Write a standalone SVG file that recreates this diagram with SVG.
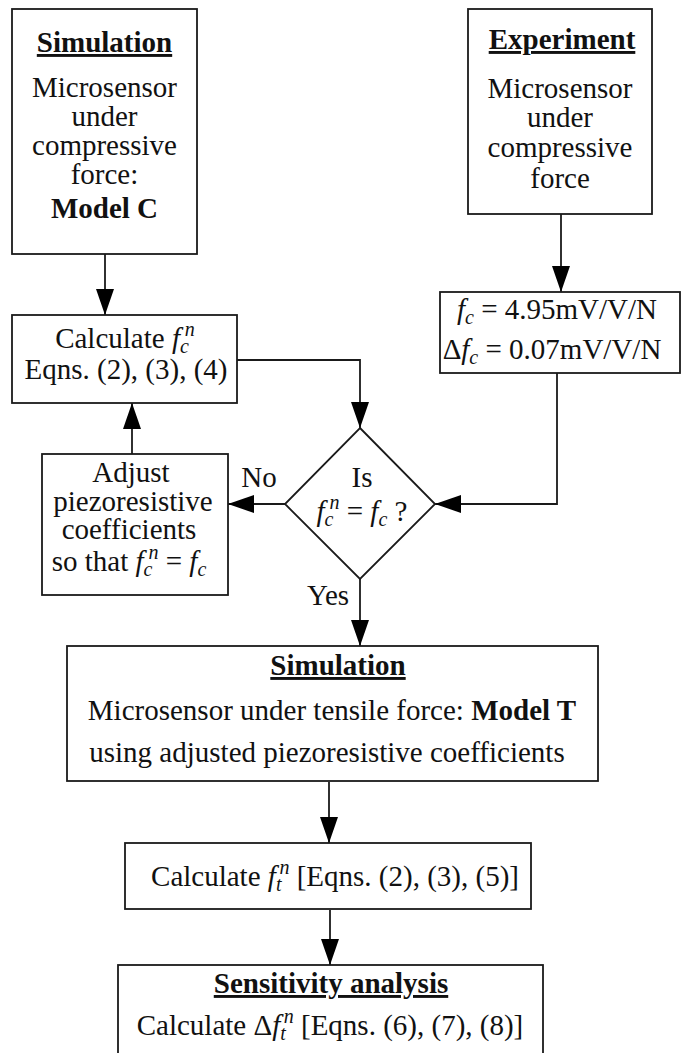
<svg xmlns="http://www.w3.org/2000/svg" width="689" height="1053" viewBox="0 0 689 1053">
<style>
.box{fill:#fff;stroke:#1a1a1a;stroke-width:1.8}
.ln{fill:none;stroke:#1a1a1a;stroke-width:1.8}
text{font-family:"Liberation Serif","Times New Roman",serif;font-size:29px;fill:#111;text-anchor:middle}
.b{font-weight:bold}
.u{text-decoration:underline}
.i{font-style:italic}
.s{font-style:italic;font-size:20px}
</style>
<defs>
<marker id="ah" markerUnits="userSpaceOnUse" markerWidth="26" markerHeight="18" refX="26" refY="9" orient="auto">
<path d="M0,0 L26,9 L0,18 Z" fill="#000"/>
</marker>
</defs>
<rect width="689" height="1053" fill="#fff"/>

<g id="connectors">
<line class="ln" x1="105" y1="254" x2="105" y2="315" marker-end="url(#ah)"/>
<line class="ln" x1="561" y1="214" x2="561" y2="292" marker-end="url(#ah)"/>
<polyline class="ln" points="237,360 360,360 360,428" marker-end="url(#ah)"/>
<polyline class="ln" points="557,373 557,504 435,504" marker-end="url(#ah)"/>
<line class="ln" x1="285" y1="504" x2="228" y2="504" marker-end="url(#ah)"/>
<line class="ln" x1="132" y1="454" x2="132" y2="403" marker-end="url(#ah)"/>
<line class="ln" x1="360" y1="579" x2="360" y2="646" marker-end="url(#ah)"/>
<line class="ln" x1="329" y1="782" x2="329" y2="843" marker-end="url(#ah)"/>
<line class="ln" x1="330" y1="910" x2="330" y2="965" marker-end="url(#ah)"/>
<text x="259" y="487">No</text>
<text x="328" y="605">Yes</text>
</g>

<g id="sim-c">
<rect class="box" x="12" y="9" width="185" height="245"/>
<text x="104.5" y="52" class="b u">Simulation</text>
<text x="104.5" y="97">Microsensor</text>
<text x="104.5" y="126">under</text>
<text x="104.5" y="155">compressive</text>
<text x="104.5" y="184">force:</text>
<text x="104.5" y="218" class="b">Model C</text>
</g>

<g id="experiment">
<rect class="box" x="468" y="9" width="184" height="205"/>
<text x="562" y="49" class="b u">Experiment</text>
<text x="560" y="98">Microsensor</text>
<text x="560" y="127">under</text>
<text x="560" y="157">compressive</text>
<text x="560" y="188">force</text>
</g>

<g id="fc-value">
<rect class="box" x="440" y="292" width="240" height="81"/>
<text x="557" y="319"><tspan class="i">f</tspan><tspan class="s" dy="5">c</tspan><tspan dy="-5"> = 4.95mV/V/N</tspan></text>
<text x="552" y="359">Δ<tspan class="i">f</tspan><tspan class="s" dy="5">c</tspan><tspan dy="-5"> = 0.07mV/V/N</tspan></text>
</g>

<g id="calc-fcn">
<rect class="box" x="12" y="315" width="225" height="88"/>
<text x="125" y="348">Calculate <tspan class="i">f</tspan><tspan class="s" dy="5">c</tspan><tspan class="s" dx="-4" dy="-17">n</tspan></text>
<text x="126" y="379">Eqns. (2), (3), (4)</text>
</g>

<g id="adjust">
<rect class="box" x="42" y="454" width="186" height="141"/>
<text x="131" y="482">Adjust</text>
<text x="133" y="511">piezoresistive</text>
<text x="129" y="539">coefficients</text>
<text x="129" y="571">so that <tspan class="i">f</tspan><tspan class="s" dy="5">c</tspan><tspan class="s" dx="-4" dy="-17">n</tspan><tspan dy="12"> = </tspan><tspan class="i">f</tspan><tspan class="s" dy="5">c</tspan></text>
</g>

<g id="decision">
<polygon class="box" points="360,428 435,504 360,579 285,504"/>
<text x="362" y="487">Is</text>
<text x="362" y="521"><tspan class="i">f</tspan><tspan class="s" dy="5">c</tspan><tspan class="s" dx="-4" dy="-17">n</tspan><tspan dy="12"> = </tspan><tspan class="i">f</tspan><tspan class="s" dy="5">c</tspan><tspan dy="-5"> ?</tspan></text>
</g>

<g id="sim-t">
<rect class="box" x="67" y="646" width="531" height="135"/>
<text x="338" y="675" class="b u">Simulation</text>
<text x="332" y="720">Microsensor under tensile force: <tspan class="b">Model T</tspan></text>
<text x="327" y="762">using adjusted piezoresistive coefficients</text>
</g>

<g id="calc-ftn">
<rect class="box" x="125" y="843" width="406" height="66"/>
<text x="335" y="886">Calculate <tspan class="i">f</tspan><tspan class="s" dy="5">t</tspan><tspan class="s" dx="-2" dy="-17">n</tspan><tspan dy="12"> [Eqns. (2), (3), (5)]</tspan></text>
</g>

<g id="sensitivity">
<rect class="box" x="118" y="965" width="425" height="110"/>
<text x="331" y="993" class="b u">Sensitivity analysis</text>
<text x="330" y="1035">Calculate Δ<tspan class="i">f</tspan><tspan class="s" dy="5">t</tspan><tspan class="s" dx="-2" dy="-17">n</tspan><tspan dy="12"> [Eqns. (6), (7), (8)]</tspan></text>
</g>
</svg>
